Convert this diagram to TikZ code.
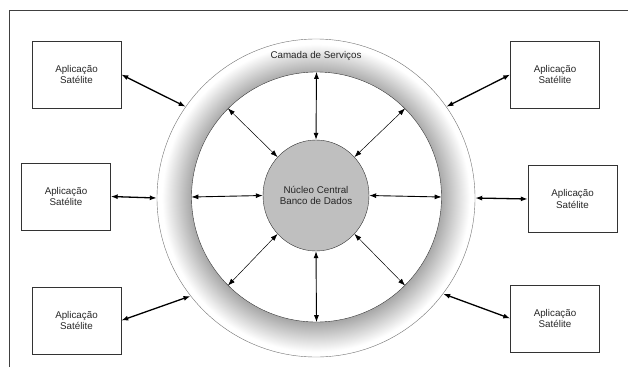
\documentclass[tikz,border=0pt]{standalone}
\usepackage{fontspec}
\setmainfont{Liberation Sans}
\usetikzlibrary{arrows.meta,shapes.geometric}
\pgfdeclareradialshading{ringshade}{\pgfpoint{0bp}{0bp}}{color(0bp)=(black!34);color(19.6bp)=(black!34);color(24.2bp)=(white);color(50bp)=(white)}
\begin{document}
\begin{tikzpicture}[x=1pt,y=-1pt]
\tikzstyle{every node}+=[inner sep=0pt,font=\fontsize{9.8}{11.7}\selectfont,text=black!85]
\tikzstyle{satbox}=[draw=black!80,minimum width=89pt,minimum height=67pt,align=center]
\tikzstyle{dual}=[{Latex[length=7pt,width=5pt]}-{Latex[length=7pt,width=5pt]}]
\useasboundingbox (0,0) rectangle (628,367);
\draw [black!75] (9,367) -- (9,10) -- (628,10);
\node [circle,minimum size=318pt,draw=black!55,shading=ringshade] (servicos) at (316,198) {};
\node [circle,minimum size=250pt,draw=black!80,fill=white] (camada) at (316.5,197) {};
\node [ellipse,minimum width=106pt,minimum height=111pt,draw=black!80,fill=black!25,align=center] (nucleo) at (316,195.5) {N\'ucleo Central\\Banco de Dados};
\node (rotulo) at (316,56) {Camada de Servi\c{c}os};
\node [satbox] (sat1) at (76.5,74.5) {Aplica\c{c}\~ao\\Sat\'elite};
\node [satbox] (sat2) at (66,196.5) {Aplica\c{c}\~ao\\Sat\'elite};
\node [satbox] (sat3) at (76.5,320.5) {Aplica\c{c}\~ao\\Sat\'elite};
\node [satbox] (sat4) at (555,74.5) {Aplica\c{c}\~ao\\Sat\'elite};
\node [satbox] (sat5) at (572.5,199) {Aplica\c{c}\~ao\\Sat\'elite};
\node [satbox] (sat6) at (555,318.5) {Aplica\c{c}\~ao\\Sat\'elite};
\draw [dual,line width=1.3pt] (sat1.east) -- (servicos.145.6);
\draw [dual,line width=1.3pt] (sat2.east) -- (servicos.180);
\draw [dual,line width=1.3pt] (sat3.east) -- (servicos.218.9);
\draw [dual,line width=1.3pt] (sat4.west) -- (servicos.35.9);
\draw [dual,line width=1.3pt] (sat5.west) -- (servicos.0);
\draw [dual,line width=1.3pt] (sat6.west) -- (servicos.-37.1);
\draw [dual,line width=0.9pt] (camada.90) -- (nucleo.90);
\draw [dual,line width=0.9pt] (camada.270) -- (nucleo.270);
\draw [dual,line width=0.9pt] (camada.180) -- (nucleo.180);
\draw [dual,line width=0.9pt] (camada.0) -- (nucleo.0);
\draw [dual,line width=0.5pt] (camada.45) -- (nucleo.45);
\draw [dual,line width=0.5pt] (camada.135) -- (nucleo.135);
\draw [dual,line width=0.5pt] (camada.225) -- (nucleo.225);
\draw [dual,line width=0.5pt] (camada.315) -- (nucleo.315);
\end{tikzpicture}
\end{document}
